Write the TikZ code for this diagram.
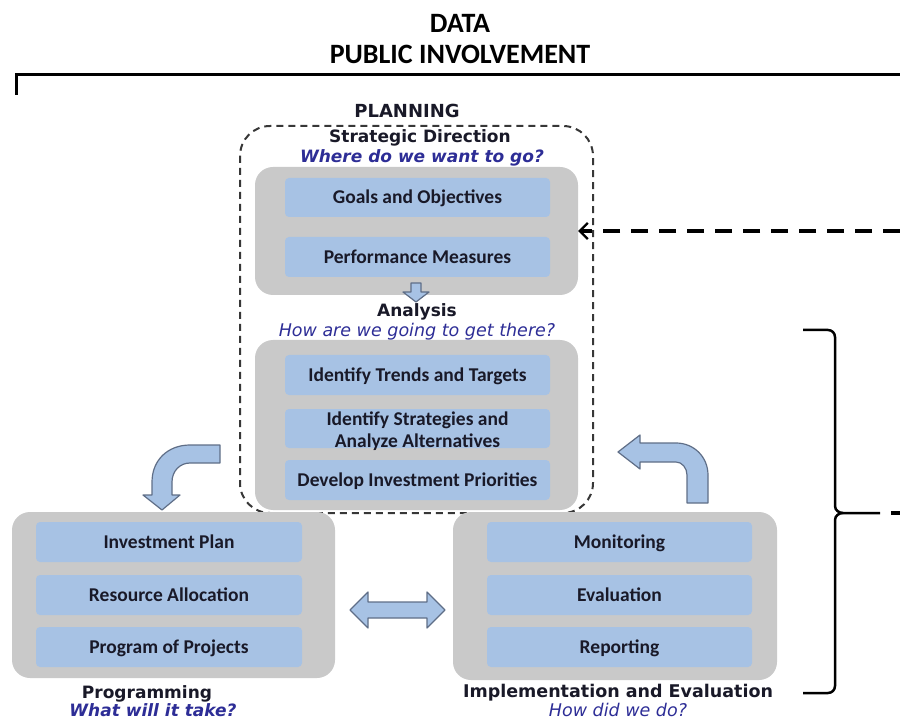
\documentclass[tikz,border=0pt]{standalone}
\usepackage{fontspec}
\setmainfont{Carlito}
\newfontfamily\calfont{Carlito}
\newfontfamily\vfont{DejaVu Sans}
\usetikzlibrary{arrows.meta}
\definecolor{grayfill}{RGB}{201,201,201}
\definecolor{bluefill}{RGB}{167,194,228}
\definecolor{arrowedge}{RGB}{95,110,135}
\definecolor{boxtext}{RGB}{25,25,40}
\definecolor{qblue}{RGB}{45,45,150}
\definecolor{dashgray}{RGB}{55,55,55}
\tikzset{
  graybox/.style={fill=grayfill, draw=none, rounded corners=18pt, inner sep=0pt},
  bluebox/.style={fill=bluefill, draw=none, rounded corners=4pt, inner sep=0pt,
    text=boxtext, font=\calfont\bfseries\fontsize{19.5}{22.5}\selectfont,
    align=center, text height=12.5pt, text depth=0pt},
  bluetext/.style={anchor=base, inner sep=0pt, text=boxtext, font=\calfont\bfseries\fontsize{19.5}{22.5}\selectfont},
  vlabel/.style={anchor=base, inner sep=0pt, text=boxtext, font=\vfont\bfseries\fontsize{17}{20}\selectfont},
  qlabel/.style={anchor=base, inner sep=0pt, text=qblue, font=\vfont\itshape\fontsize{17.5}{20}\selectfont},
  qblabel/.style={anchor=base, inner sep=0pt, text=qblue, font=\vfont\bfseries\itshape\fontsize{17}{20}\selectfont},
  titlelabel/.style={anchor=base, inner sep=0pt, text=black, font=\calfont\bfseries\fontsize{28}{32}\selectfont},
  blockarrow/.style={fill=bluefill, draw=arrowedge, line width=1.2pt, line join=round},
  planbox/.style={draw=dashgray, line width=2pt, dash pattern=on 7pt off 5pt, rounded corners=30pt},
  dashconn/.style={draw=black, line width=4pt, dash pattern=on 17pt off 11pt},
  heavyline/.style={draw=black, line width=3pt},
  bracket/.style={draw=black, line width=2.5pt}
}
\begin{document}
\begin{tikzpicture}[x=1pt,y=-1pt]
\useasboundingbox (0,0) rectangle (900,719);

% titles
\node[titlelabel] (data) at (460,33) {DATA};
\node[titlelabel] (pi) at (460,64) {PUBLIC INVOLVEMENT};

% top rule
\coordinate (tl) at (16,95);
\coordinate (tr) at (900,75);
\draw[heavyline] (tl) |- (tr);

% planning dashed box
\draw[planbox] (240,126) rectangle (593,513);

% gray boxes
\node[graybox, minimum width=323pt, minimum height=128pt] (g1) at (416.5,231) {};
\node[graybox, minimum width=323pt, minimum height=170pt] (g2) at (416.5,425) {};
\node[graybox, minimum width=323pt, minimum height=166pt] (g3) at (173.5,595) {};
\node[graybox, minimum width=324pt, minimum height=168pt] (g4) at (615,596) {};

% blue boxes
\node[bluebox, minimum width=265pt, minimum height=39pt] (b1) at (417.5,197.5) {Goals and Objectives};
\node[bluebox, minimum width=265pt, minimum height=40pt] (b2) at (417.5,257) {Performance Measures};
\node[bluebox, minimum width=265pt, minimum height=40pt] (b3) at (417.5,375) {Identify Trends and Targets};
\node[bluebox, minimum width=265pt, minimum height=39pt, text height=34pt] (b4) at (417.5,428.5) {};
\node[bluetext] (b4a) at (417.5,425) {Identify Strategies and};
\node[bluetext] (b4b) at (417.5,447) {Analyze Alternatives};
\node[bluebox, minimum width=265pt, minimum height=40pt] (b5) at (417.5,480) {Develop Investment Priorities};

\node[bluebox, minimum width=266pt, minimum height=40pt] (b6) at (169,542) {Investment Plan};
\node[bluebox, minimum width=266pt, minimum height=40pt] (b7) at (169,595) {Resource Allocation};
\node[bluebox, minimum width=266pt, minimum height=40pt] (b8) at (169,647) {Program of Projects};

\node[bluebox, minimum width=265pt, minimum height=40pt] (b9) at (619.5,542) {Monitoring};
\node[bluebox, minimum width=265pt, minimum height=40pt] (b10) at (619.5,595) {Evaluation};
\node[bluebox, minimum width=265pt, minimum height=40pt] (b11) at (619.5,647) {Reporting};

% labels
\node[vlabel, font=\vfont\bfseries\fontsize{18}{20}\selectfont] (plan) at (407,118) {PLANNING};
\node[vlabel] (strat) at (420,143) {Strategic Direction};
\node[qblabel] (where) at (422,163) {Where do we want to go?};
\node[vlabel] (anal) at (417,317) {Analysis};
\node[qlabel] (howget) at (417,337) {How are we going to get there?};
\node[vlabel] (prog) at (147,698) {Programming};
\node[qblabel] (what) at (153,716) {What will it take?};
\node[vlabel, font=\vfont\bfseries\fontsize{17.5}{20}\selectfont] (impl) at (618,697) {Implementation and Evaluation};
\node[qlabel] (howdid) at (618,716) {How did we do?};

% block arrows
\draw[blockarrow] (411,283) -- (421,283) -- (421,292) -- (429,292) -- (416,302) -- (403,292) -- (411,292) -- cycle;
\draw[blockarrow] (350,610) -- (368,592) -- (368,602) -- (427,602) -- (427,592) -- (445,610) -- (427,628) -- (427,618) -- (368,618) -- (368,628) -- cycle;
\draw[blockarrow] (220,445) -- (190,445) .. controls (168,445) and (152,460) .. (152,482) -- (152,495) -- (143,495) -- (162,510) -- (180,495) -- (172,495) -- (172,482) .. controls (172,471) and (180,463) .. (190,463) -- (220,463) -- cycle;
\draw[blockarrow] (618,452) -- (640,435) -- (640,443) -- (676,443) .. controls (694,443) and (708,457) .. (708,475) -- (708,503) -- (687,503) -- (687,475) .. controls (687,468) and (682,462) .. (676,462) -- (640,462) -- (640,469) -- cycle;

% feedback dashed connector
\coordinate (topedge) at (900,231);
\draw[dashconn, -{Straight Barb[length=8pt,width=16pt,line width=2.2pt]}] (topedge) -- (g1.east);

% bracket
\coordinate (brtip) at (843,513);
\coordinate (brend) at (880,513);
\coordinate (bredge) at (900,513);
\draw[bracket] (803,330) -- (828,330) to[out=0,in=90] (835,337) -- (835,506) to[out=-90,in=180] (brtip) -- (brend);
\draw[bracket] (brtip) to[out=180,in=90] (835,520) -- (835,686) to[out=-90,in=0] (828,693) -- (803,693);
\draw[dashconn, dash phase=17pt] (brend) -- (bredge);
\end{tikzpicture}
\end{document}
